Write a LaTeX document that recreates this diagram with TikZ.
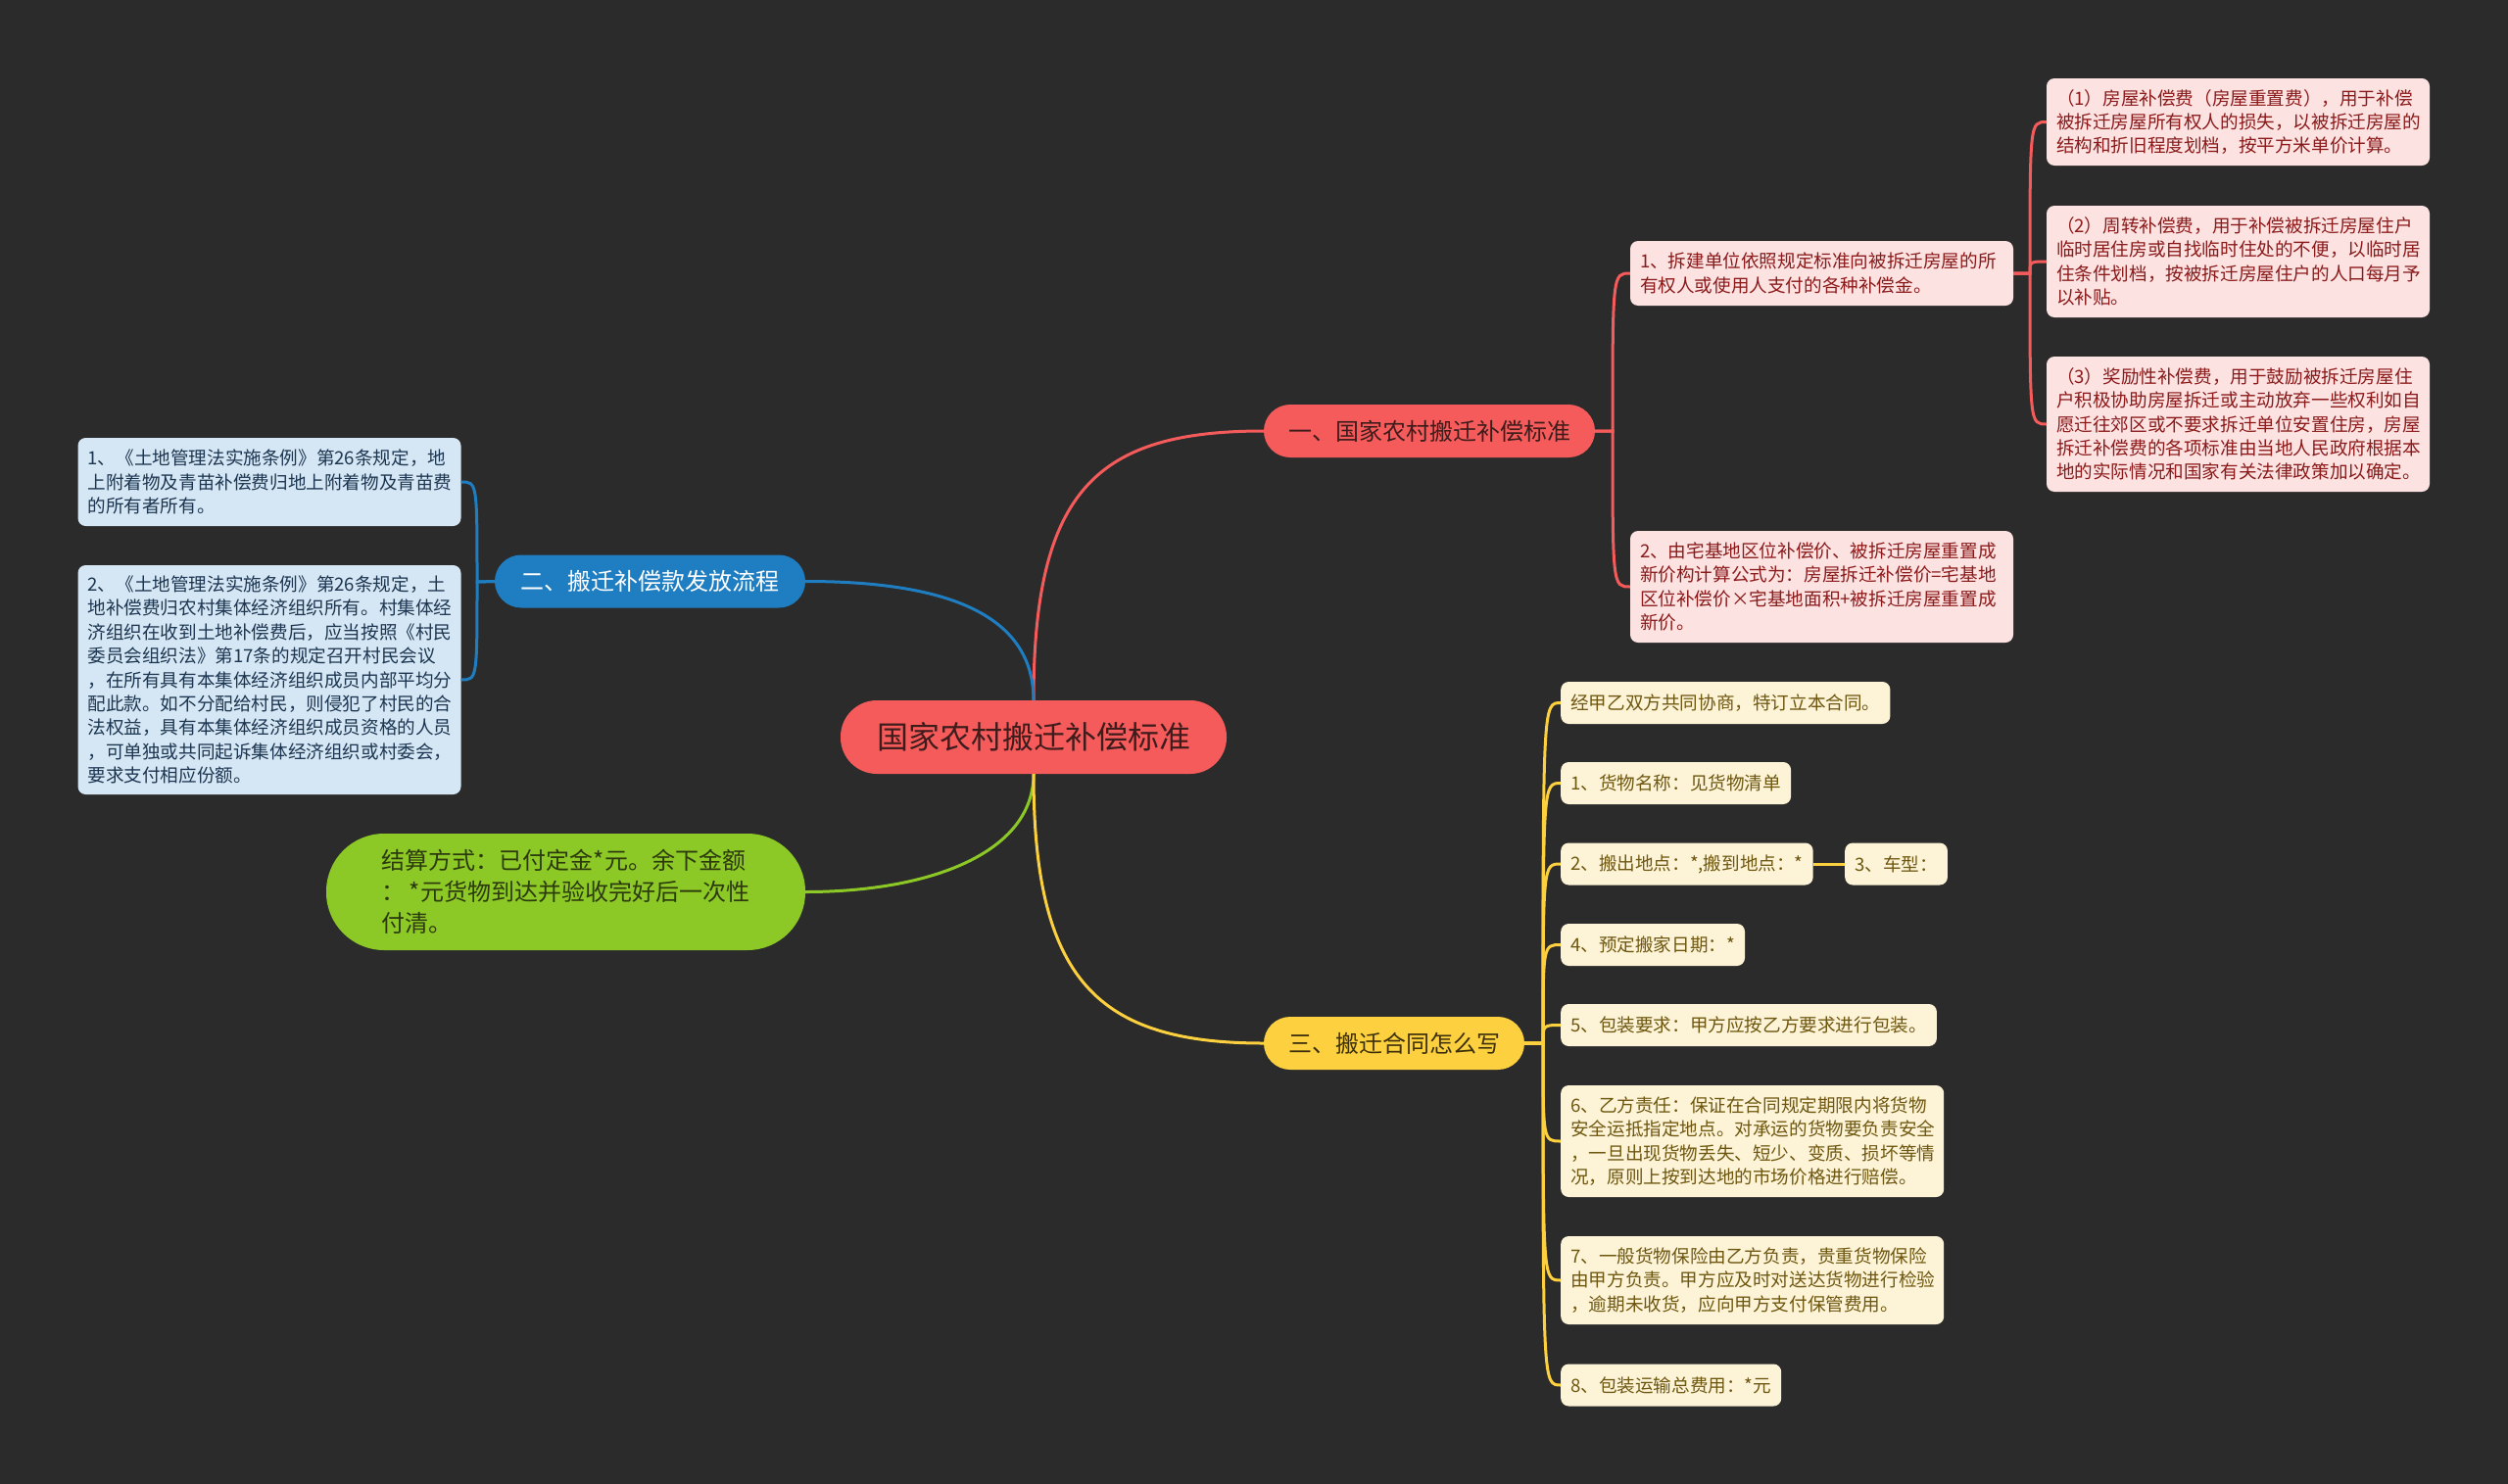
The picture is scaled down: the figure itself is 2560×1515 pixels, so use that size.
\documentclass[tikz,border=0pt]{standalone}
\usepackage{fontspec}
\setmainfont{Noto Sans CJK SC}
\definecolor{bgc}{HTML}{2B2B2B}
\definecolor{redc}{HTML}{F65B5B}
\definecolor{bluec}{HTML}{1F7DC1}
\definecolor{greenc}{HTML}{8CC926}
\definecolor{yellowc}{HTML}{FCD03E}
\definecolor{redleaf}{HTML}{FDE2E2}
\definecolor{redtext}{HTML}{8B1A1A}
\definecolor{blueleaf}{HTML}{D5E7F4}
\definecolor{bluetext}{HTML}{1C3550}
\definecolor{yelleaf}{HTML}{FDF3D6}
\definecolor{yeltext}{HTML}{6E5710}
\definecolor{darkred}{HTML}{3E1C1C}
\definecolor{greentext}{HTML}{2C3A0E}
\definecolor{yelbrtext}{HTML}{3C300C}
\newcommand\leaffont{\fontsize{18.6pt}{24.4pt}\selectfont}
\newcommand\brfont{\fontsize{24pt}{32pt}\selectfont}
\newcommand\rootfont{\fontsize{32pt}{40pt}\selectfont}
\tikzset{
  leafbox/.style={rounded corners=8pt, inner xsep=10pt, inner ysep=4pt, align=left, font=\leaffont},
  redleafbox/.style={leafbox, fill=redleaf, text=redtext},
  blueleafbox/.style={leafbox, fill=blueleaf, text=bluetext},
  yelleafbox/.style={leafbox, fill=yelleaf, text=yeltext, minimum height=43pt},
  wide/.style={text width=371pt},
  branchbox/.style={font=\brfont, inner xsep=0pt, inner ysep=0pt, minimum height=54pt, rounded corners=27pt},
  redline/.style={draw=redc, line width=3pt},
  blueline/.style={draw=bluec, line width=3pt},
  greenline/.style={draw=greenc, line width=3pt},
  yelline/.style={draw=yellowc, line width=3pt},
}
\begin{document}
\begin{tikzpicture}[x=1pt,y=-1pt]
\useasboundingbox (0,0) rectangle (2560,1515);
\fill[bgc] (0,0) rectangle (2560,1515);

% root
\node[font=\rootfont, fill=redc, text=darkred, minimum width=394pt, minimum height=75pt, rounded corners=37pt, inner sep=0pt] (root) at (1055,752.5) {国家农村搬迁补偿标准};

% branches
\node[branchbox, fill=redc, text=darkred, minimum width=338pt] (br1) at (1459,440) {一、国家农村搬迁补偿标准};
\node[branchbox, fill=bluec, text=white, minimum width=317pt] (br2) at (663.5,593.5) {二、搬迁补偿款发放流程};
\node[font=\brfont, fill=greenc, text=greentext, minimum width=489pt, minimum height=119pt, rounded corners=59pt, inner sep=0pt, align=left] (gr) at (577.5,910.5) {结算方式：已付定金*元。余下金额\\：\,*元货物到达并验收完好后一次性\\付清。};
\node[branchbox, fill=yellowc, text=yelbrtext, minimum width=266pt] (br3) at (1423,1065) {三、搬迁合同怎么写};

% red leaves
\node[redleafbox, wide, minimum height=66pt] (r1) at (1859.5,279) {1、拆建单位依照规定标准向被拆迁房屋的所\\有权人或使用人支付的各种补偿金。};
\node[redleafbox, wide, minimum height=114pt] (r2) at (1859.5,599) {2、由宅基地区位补偿价、被拆迁房屋重置成\\新价构计算公式为：房屋拆迁补偿价=宅基地\\区位补偿价×宅基地面积+被拆迁房屋重置成\\新价。};
\node[redleafbox, wide, minimum height=89pt] (r1a) at (2284.5,124.5) {（1）房屋补偿费（房屋重置费），用于补偿\\被拆迁房屋所有权人的损失，以被拆迁房屋的\\结构和折旧程度划档，按平方米单价计算。};
\node[redleafbox, wide, minimum height=114pt] (r1b) at (2284.5,267) {（2）周转补偿费，用于补偿被拆迁房屋住户\\临时居住房或自找临时住处的不便，以临时居\\住条件划档，按被拆迁房屋住户的人口每月予\\以补贴。};
\node[redleafbox, wide, minimum height=138pt] (r1c) at (2284.5,433) {（3）奖励性补偿费，用于鼓励被拆迁房屋住\\户积极协助房屋拆迁或主动放弃一些权利如自\\愿迁往郊区或不要求拆迁单位安置住房，房屋\\拆迁补偿费的各项标准由当地人民政府根据本\\地的实际情况和国家有关法律政策加以确定。};

% blue leaves
\node[blueleafbox, wide, minimum height=90pt] (b1) at (275,492) {1、《土地管理法实施条例》第26条规定，地\\上附着物及青苗补偿费归地上附着物及青苗费\\的所有者所有。};
\node[blueleafbox, wide, minimum height=234pt] (b2) at (275,694) {2、《土地管理法实施条例》第26条规定，土\\地补偿费归农村集体经济组织所有。村集体经\\济组织在收到土地补偿费后，应当按照《村民\\委员会组织法》第17条的规定召开村民会议\\，在所有具有本集体经济组织成员内部平均分\\配此款。如不分配给村民，则侵犯了村民的合\\法权益，具有本集体经济组织成员资格的人员\\，可单独或共同起诉集体经济组织或村委会，\\要求支付相应份额。};

% yellow leaves
\node[yelleafbox, anchor=west] (y0) at (1593,717.5) {经甲乙双方共同协商，特订立本合同。};
\node[yelleafbox, anchor=west] (y1) at (1593,799.5) {1、货物名称：见货物清单};
\node[yelleafbox, anchor=west] (y2) at (1593,882) {2、搬出地点：*,搬到地点：*};
\node[yelleafbox, anchor=west] (y3) at (1883,882) {3、车型：};
\node[yelleafbox, anchor=west] (y4) at (1593,964.5) {4、预定搬家日期：*};
\node[yelleafbox, anchor=west] (y5) at (1593,1046.5) {5、包装要求：甲方应按乙方要求进行包装。};
\node[yelleafbox, wide, anchor=west, minimum height=114pt] (y6) at (1593,1165) {6、乙方责任：保证在合同规定期限内将货物\\安全运抵指定地点。对承运的货物要负责安全\\，一旦出现货物丢失、短少、变质、损坏等情\\况，原则上按到达地的市场价格进行赔偿。};
\node[yelleafbox, wide, anchor=west, minimum height=90pt] (y7) at (1593,1307) {7、一般货物保险由乙方负责，贵重货物保险\\由甲方负责。甲方应及时对送达货物进行检验\\，逾期未收货，应向甲方支付保管费用。};
\node[yelleafbox, anchor=west] (y8) at (1593,1414) {8、包装运输总费用：*元};

% main connectors
\draw[redline] (root.north) .. controls ([yshift=215pt]root.north) and ([xshift=-170pt]br1.west) .. (br1.west);
\draw[blueline] (root.north) .. controls ([yshift=95pt]root.north) and ([xshift=128pt]br2.east) .. (br2.east);
\draw[greenline] (root.south) .. controls ([yshift=-80pt]root.south) and ([xshift=128pt]gr.east) .. (gr.east);
\draw[yelline] (root.south) .. controls ([yshift=-210pt]root.south) and ([xshift=-170pt]br3.west) .. (br3.west);

% red sub connectors
\coordinate (jr) at (1646,440);
\foreach \t in {r1,r2} {
  \draw[redline] (br1.east) -- (jr) .. controls (jr |- \t.west) and (jr |- \t.west) .. (\t.west);
}
\coordinate (jr1) at (2072,279);
\foreach \t in {r1a,r1b,r1c} {
  \draw[redline] (r1.east) -- (jr1) .. controls (jr1 |- \t.west) and (jr1 |- \t.west) .. (\t.west);
}
% blue sub connectors
\coordinate (jb) at (487,594);
\foreach \t in {b1,b2} {
  \draw[blueline] (br2.west) -- (jb) .. controls (jb |- \t.east) and (jb |- \t.east) .. (\t.east);
}
% yellow sub connectors
\coordinate (jy) at (1575,1065);
\foreach \t in {y0,y1,y2,y4,y5,y6,y7,y8} {
  \draw[yelline] (br3.east) -- (jy) .. controls (jy |- \t.west) and (jy |- \t.west) .. (\t.west);
}
\draw[yelline] (y2.east) -- (y3.west);
\end{tikzpicture}
\end{document}
